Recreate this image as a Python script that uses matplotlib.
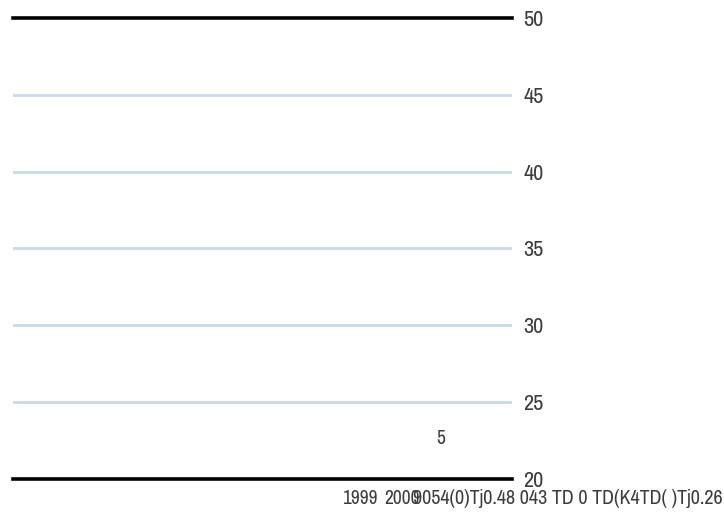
import matplotlib
matplotlib.use('Agg')
import matplotlib.pyplot as plt
from matplotlib import font_manager

# Values
y_ticks = [20, 25, 30, 35, 40, 45, 50]
grid_levels = [25, 30, 35, 40, 45]
frame_levels = [20, 50]
year_labels = ['1999', '2000']
stray_label = '5'
stray_text = '9054(0)Tj0.48 043 TD 0 TD(K4TD( )Tj0.26'

# a narrow face, like the reference's condensed type
names = {f.name for f in font_manager.fontManager.ttflist}
font = next((n for n in ['Archivo Narrow', 'Barlow Semi Condensed', 'Barlow Condensed'] if n in names), 'DejaVu Sans')
plt.rcParams['font.family'] = [font, 'DejaVu Sans']

fig = plt.figure(figsize=(7.24, 5.13), dpi=100)
ax = fig.add_axes([13 / 724, 1 - 479 / 513, (512 - 13) / 724, (479 - 18) / 513])
ax.set_ylim(20, 50)
ax.set_xlim(0, 1)

for y in grid_levels:
    ax.axhline(y, color='#c6dbef', linewidth=2)
for y in frame_levels:
    ax.axhline(y, color='black', linewidth=2.6, clip_on=False)

for s in ax.spines.values():
    s.set_visible(False)
ax.set_xticks([])
ax.yaxis.tick_right()
ax.set_yticks(y_ticks)
ax.tick_params(axis='y', length=0, pad=8, labelsize=16, labelcolor='#3c3c3c')

txt = dict(fontsize=14, color='#3c3c3c')
fig.text(441 / 724, 1 - 438 / 513, stray_label, ha='center', va='center', **txt)
fig.text(360 / 724, 1 - 498 / 513, year_labels[0], ha='center', va='center', **txt)
fig.text(402 / 724, 1 - 498 / 513, year_labels[1], ha='center', va='center', **txt)
fig.text(413 / 724, 1 - 498 / 513, stray_text, ha='left', va='center', fontsize=14.5, color='#3c3c3c')

fig.savefig('out.png', dpi=100, facecolor='white')
